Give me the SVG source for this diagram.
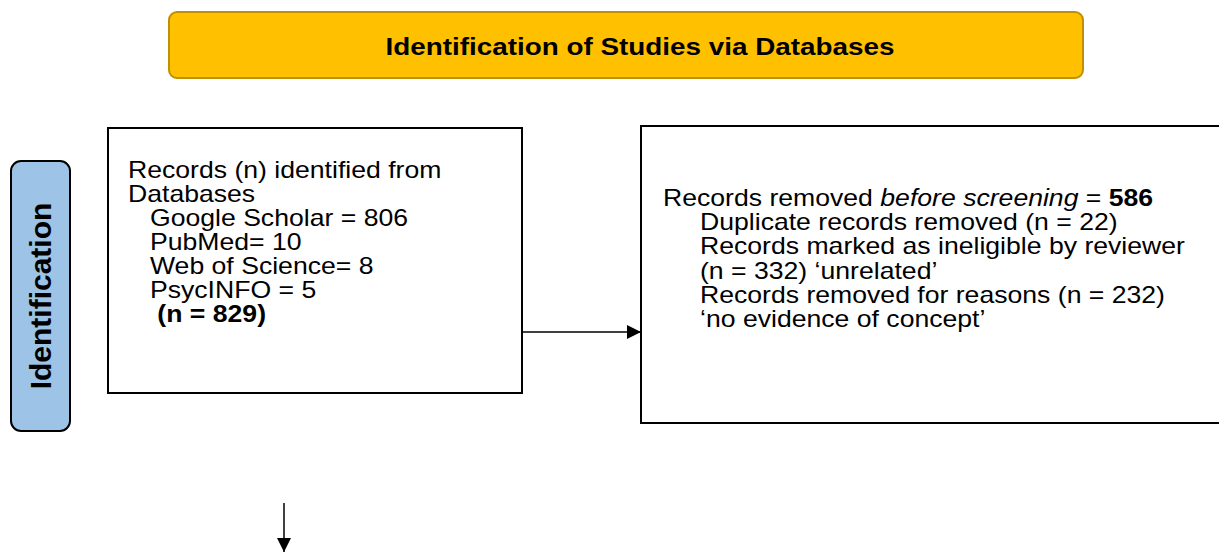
<svg xmlns="http://www.w3.org/2000/svg" width="1219" height="556" viewBox="0 0 1219 556">
<defs>
<style>
.t{font-family:"Liberation Sans",Arial,sans-serif;font-size:23px;fill:#000}
.ttl{font-family:"Liberation Sans",Arial,sans-serif;font-size:23.5px;font-weight:bold;fill:#000}
.side{font-family:"Liberation Sans",Arial,sans-serif;font-size:30px;font-weight:bold;fill:#000}
.b{font-weight:bold}
.box{fill:#fff;stroke:#000;stroke-width:2}
.ln{stroke:#000;stroke-width:1.5;fill:none}
</style>
<marker id="ah" markerWidth="14" markerHeight="14" refX="14" refY="7" orient="auto" markerUnits="userSpaceOnUse" viewBox="0 0 14 14">
<path d="M0,0 L14,7 L0,14 Z" fill="#000"/>
</marker>
</defs>
<rect width="1219" height="556" fill="#fff"/>
<g id="title">
<rect x="169" y="12" width="914" height="66" rx="8" fill="#FFC000" stroke="#BF9000" stroke-width="2"/>
<g transform="translate(640,0) scale(1.185,1)">
<text class="ttl" x="0" y="55" text-anchor="middle">Identification of Studies via Databases</text>
</g>
</g>
<g id="phase">
<rect x="11" y="161" width="59" height="270" rx="10" fill="#9DC3E6" stroke="#000" stroke-width="2"/>
<text class="side" transform="translate(51,296) rotate(-90)" text-anchor="middle">Identification</text>
</g>
<g id="records">
<rect class="box" x="108" y="128" width="414" height="265"/>
<g transform="translate(128,0) scale(1.157,1)">
<text class="t" x="0" y="178">Records (n) identified from</text>
<text class="t" x="0" y="202">Databases</text>
<text class="t" x="19" y="226">Google Scholar = 806</text>
<text class="t" x="19" y="250">PubMed= 10</text>
<text class="t" x="19" y="274">Web of Science= 8</text>
<text class="t" x="19" y="298">PsycINFO = 5</text>
<text class="t b" x="19" y="322" xml:space="preserve"> (n = 829)</text>
</g>
</g>
<g id="removed">
<rect class="box" x="641" y="126" width="590" height="297"/>
<g transform="translate(663,0) scale(1.157,1)">
<text class="t" x="0" y="206">Records removed <tspan font-style="italic">before screening</tspan> = <tspan font-weight="bold">586</tspan></text>
<text class="t" x="32" y="230">Duplicate records removed (n = 22)</text>
<text class="t" x="32" y="254">Records marked as ineligible by reviewer</text>
<text class="t" x="32" y="279">(n = 332) ‘unrelated’</text>
<text class="t" x="32" y="303">Records removed for reasons (n = 232)</text>
<text class="t" x="32" y="327">‘no evidence of concept’</text>
</g>
</g>
<g id="connectors">
<line class="ln" x1="522" y1="332" x2="641" y2="332" marker-end="url(#ah)"/>
<line class="ln" x1="284" y1="503" x2="284" y2="552" marker-end="url(#ah)"/>
</g>
</svg>
